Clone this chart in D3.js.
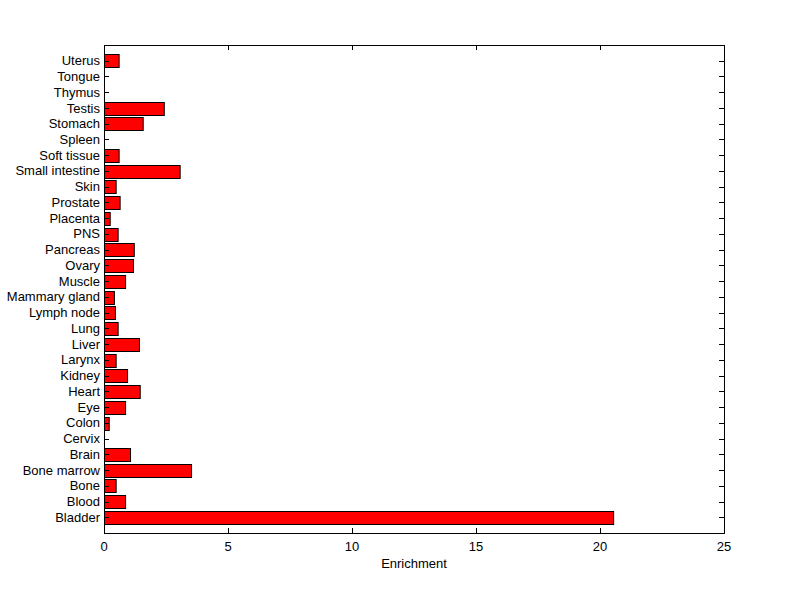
<!DOCTYPE html>
<html>
<head>
<meta charset="utf-8">
<script src="https://cdn.jsdelivr.net/npm/d3@7"></script>
<style>
  body { margin: 0; background: #fff; }
  text { font-family: "Liberation Sans", Arial, sans-serif; font-size: 13px; fill: #000; }
</style>
</head>
<body>
<svg id="chart" width="800" height="599"></svg>
<script>
// tissues, bottom to top as in the picture
var tissues = ["Bladder", "Blood", "Bone", "Bone marrow", "Brain", "Cervix", "Colon", "Eye", "Heart", "Kidney",
  "Larynx", "Liver", "Lung", "Lymph node", "Mammary gland", "Muscle", "Ovary", "Pancreas", "PNS", "Placenta",
  "Prostate", "Skin", "Small intestine", "Soft tissue", "Spleen", "Stomach", "Testis", "Thymus", "Tongue", "Uterus"];
var enrichment = [20.53, 0.85, 0.47, 3.51, 1.05, 0, 0.19, 0.85, 1.44, 0.93,
  0.47, 1.41, 0.55, 0.44, 0.40, 0.85, 1.17, 1.20, 0.55, 0.23,
  0.63, 0.47, 3.05, 0.59, 0, 1.56, 2.41, 0, 0, 0.59];
var xTicks = [0, 5, 10, 15, 20, 25];

var svg = d3.select("#chart"),
    box = {left: 104, right: 724, top: 45, bottom: 533},
    tick = 5;

var data = tissues.map((t, i) => ({name: t, pos: i + 1, value: enrichment[i]}));

var x = d3.scaleLinear().domain([0, 25]).range([box.left, box.right]);
var y = d3.scaleLinear().domain([0, tissues.length + 1]).range([box.bottom, box.top]);
var barH = (y(0) - y(0.8));

// bars
svg.append("g").selectAll("rect")
  .data(data.filter(d => d.value > 0))
  .join("rect")
  .attr("x", x(0) + 0.5)
  .attr("y", d => Math.round(y(d.pos) - barH / 2) + 0.5)
  .attr("width", d => x(d.value) - x(0))
  .attr("height", Math.round(barH))
  .attr("fill", "#ff0000")
  .attr("stroke", "#000")
  .attr("stroke-width", 1);

var axes = svg.append("g").attr("stroke", "#000").attr("stroke-width", 1).attr("shape-rendering", "crispEdges");

// box
axes.append("rect")
  .attr("x", box.left).attr("y", box.top)
  .attr("width", box.right - box.left).attr("height", box.bottom - box.top)
  .attr("fill", "none");

// x ticks (inward, top and bottom)
xTicks.forEach(function(v) {
  axes.append("line").attr("x1", x(v)).attr("x2", x(v)).attr("y1", box.bottom).attr("y2", box.bottom - tick);
  axes.append("line").attr("x1", x(v)).attr("x2", x(v)).attr("y1", box.top).attr("y2", box.top + tick);
});

// y ticks (inward, left and right)
data.forEach(function(d) {
  var yy = Math.round(y(d.pos));
  axes.append("line").attr("x1", box.left).attr("x2", box.left + tick).attr("y1", yy).attr("y2", yy);
  axes.append("line").attr("x1", box.right).attr("x2", box.right - tick).attr("y1", yy).attr("y2", yy);
});

// labels
svg.append("g").selectAll("text")
  .data(xTicks)
  .join("text")
  .attr("x", d => x(d))
  .attr("y", box.bottom + 18)
  .attr("text-anchor", "middle")
  .text(d => d);

svg.append("g").selectAll("text")
  .data(data)
  .join("text")
  .attr("x", box.left - 4)
  .attr("y", d => y(d.pos))
  .attr("dy", "0.35em")
  .attr("text-anchor", "end")
  .text(d => d.name);

svg.append("text")
  .attr("x", (box.left + box.right) / 2)
  .attr("y", box.bottom + 35)
  .attr("text-anchor", "middle")
  .text("Enrichment");
</script>
</body>
</html>
